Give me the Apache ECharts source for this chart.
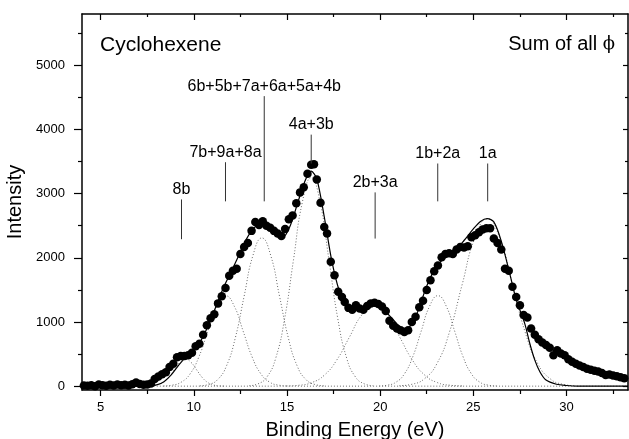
<!DOCTYPE html>
<html>
<head>
<meta charset="utf-8">
<script src="https://cdn.jsdelivr.net/npm/echarts@6/dist/echarts.min.js"></script>
<style>
    html, body { margin: 0; padding: 0; background: #fff; }
    #chart { width: 629px; height: 439px; }
</style>
</head>
<body>
<div id="chart"></div>
<script>
// measured spectrum (binding energy in eV, intensity)
const energy = [
    4.1, 4.3, 4.5, 4.7, 4.9, 5.1, 5.3, 5.5, 5.7, 5.9, 6.1, 6.3, 6.5, 6.7, 6.9, 7.1, 7.3, 7.5, 7.7, 7.9,
    8.1, 8.3, 8.5, 8.7, 8.9, 9.1, 9.3, 9.5, 9.7, 9.9, 10.1, 10.3, 10.5, 10.7, 10.9, 11.1, 11.3, 11.5, 11.7, 11.9,
    12.1, 12.3, 12.5, 12.7, 12.9, 13.1, 13.3, 13.5, 13.7, 13.9, 14.1, 14.3, 14.5, 14.7, 14.9, 15.1, 15.3, 15.5, 15.7, 15.9,
    16.1, 16.3, 16.45, 16.6, 16.8, 17.0, 17.15, 17.35, 17.55, 17.75, 17.95, 18.1,
    18.3, 18.5, 18.7, 18.9, 19.1, 19.3, 19.5, 19.7, 19.9, 20.1, 20.3, 20.5, 20.7, 20.9, 21.1, 21.3, 21.5, 21.7, 21.9,
    22.1, 22.3, 22.5, 22.7, 22.9, 23.1, 23.3, 23.5, 23.7, 23.9, 24.1, 24.3, 24.5, 24.7, 24.9, 25.1, 25.3, 25.5, 25.7, 25.9,
    26.1, 26.3, 26.5, 26.7, 26.9, 27.1, 27.3, 27.5, 27.7, 27.9, 28.1, 28.3, 28.5, 28.7, 28.9, 29.1, 29.3, 29.5, 29.7, 29.9,
    30.1, 30.3, 30.5, 30.7, 30.9, 31.1, 31.3, 31.5, 31.7, 31.9, 32.1, 32.3, 32.5, 32.7, 32.9, 33.1
];
const counts = [
    10, 5, 15, 0, 25, 15, 5, 20, 10, 25, 15, 20, 10, 30, 55, 35, 20, 25, 40, 110,
    150, 185, 215, 300, 350, 450, 470, 470, 480, 520, 620, 660, 800, 950, 1060, 1120, 1290, 1400, 1530, 1720,
    1800, 1830, 2060, 2170, 2230, 2420, 2560, 2510, 2570, 2500, 2470, 2420, 2380, 2340, 2450, 2600, 2660, 2850, 3020, 3100,
    3310, 3450, 3460, 3220, 2860, 2480, 2380, 1940, 1730, 1470, 1390, 1310,
    1220, 1190, 1260, 1210, 1190, 1250, 1290, 1300, 1280, 1240, 1170, 1020, 940, 900, 870, 845, 870, 1000, 1080,
    1230, 1330, 1500, 1650, 1790, 1880, 2010, 2060, 2070, 2060, 2130, 2170, 2160, 2180, 2320, 2350, 2400, 2440, 2460, 2460,
    2300, 2230, 2130, 1830, 1800, 1550, 1390, 1260, 1110, 1070, 900, 800, 730, 680, 640, 600, 480, 560, 510, 480,
    420, 380, 350, 320, 300, 270, 255, 240, 230, 205, 175, 180, 165, 155, 140, 125
];

// fitted envelope (solid line)
const fitE = [4, 7, 7.6, 8.0, 8.4, 8.8, 9.2, 9.6, 10.0, 10.4, 10.8, 11.2, 11.6, 12.0, 12.4, 12.8, 13.2, 13.6, 14.0, 14.4,
    14.8, 15.2, 15.6, 16.0, 16.3, 16.6, 17.0, 17.4, 17.8, 18.2, 18.6, 19.0, 19.5, 20.0, 20.5, 21.0, 21.3, 21.6, 22.0, 22.5,
    23.0, 23.5, 24.0, 24.5, 25.0, 25.4, 25.75, 26.1, 26.5, 27.0, 27.3, 27.76, 28.03, 28.3, 28.57, 28.9, 29.46, 30.0, 30.6, 33.3];
const fitI = [0, 0, 5, 20, 70, 180, 330, 460, 560, 720, 960, 1250, 1540, 1780, 2030, 2280, 2460, 2530, 2470, 2370,
    2330, 2520, 2880, 3220, 3350, 3230, 2640, 1960, 1490, 1240, 1180, 1210, 1270, 1240, 1100, 940, 880, 930, 1150, 1560,
    1860, 2010, 2110, 2270, 2450, 2570, 2610, 2560, 2260, 1700, 1350, 975, 665, 405, 225, 95, 30, 10, 0, 0];

// dotted component peaks [energy, intensity]
const peak8b = [[7.45, 1], [7.75, 5], [8.05, 18], [8.35, 57], [8.65, 136], [8.95, 255], [9.25, 371], [9.55, 420],
    [9.85, 371], [10.15, 255], [10.45, 136], [10.75, 57], [11.05, 18], [11.35, 5], [11.65, 1]];
const peak7b = [[8.375, 3], [8.85, 16], [9.325, 62], [9.8, 191], [10.275, 458], [10.75, 855], [11.225, 1244], [11.7, 1410],
    [12.175, 1244], [12.65, 855], [13.125, 458], [13.6, 191], [14.075, 62], [14.55, 16], [15.025, 3]];
const peak6b = [[10.325, 5], [10.8, 26], [11.275, 101], [11.75, 313], [12.225, 750], [12.7, 1401], [13.175, 2039], [13.65, 2310],
    [14.125, 2039], [14.6, 1401], [15.075, 750], [15.55, 313], [16.025, 101], [16.5, 26], [16.975, 5]];
const peak4a = [[12.975, 7], [13.45, 36], [13.925, 143], [14.4, 440], [14.875, 1055], [15.35, 1971], [15.825, 2868], [16.3, 3250],
    [16.775, 2868], [17.25, 1971], [17.725, 1055], [18.2, 440], [18.675, 143], [19.15, 36], [19.625, 7]];
const peak2b = [[14.975, 3], [15.65, 14], [16.325, 55], [17.0, 170], [17.675, 409], [18.35, 764], [19.025, 1112], [19.7, 1260],
    [20.375, 1112], [21.05, 764], [21.725, 409], [22.4, 170], [23.075, 55], [23.75, 14], [24.425, 3]];
const peak1b = [[19.95, 3], [20.4, 16], [20.85, 62], [21.3, 191], [21.75, 458], [22.2, 855], [22.65, 1244], [23.1, 1410],
    [23.55, 1244], [24.0, 855], [24.45, 458], [24.9, 191], [25.35, 62], [25.8, 16], [26.25, 3]];
const peak1a = [[21.025, 6], [21.7, 29], [22.375, 115], [23.05, 353], [23.725, 847], [24.4, 1583], [25.075, 2303], [25.75, 2610],
    [26.425, 2303], [27.1, 1583], [27.775, 847], [28.45, 353], [29.125, 115], [29.8, 29], [30.475, 6]];
const baseline = [[4, 0], [33.3, 0]];

// assignment markers
const annText = ['8b', '7b+9a+8a', '6b+5b+7a+6a+5a+4b', '4a+3b', '2b+3a', '1b+2a', '1a'];
const annX = [9.34, 11.7, 13.78, 16.3, 19.73, 23.09, 25.77];
const annTop = [2910, 3490, 4520, 3920, 3020, 3470, 3470];
const annBottom = [2290, 2880, 2880, 3470, 2300, 2880, 2880];

const xMajor = [5, 10, 15, 20, 25, 30];
const xMinor = [7.5, 12.5, 17.5, 22.5, 27.5, 32.5];
const yMajor = [0, 1000, 2000, 3000, 4000, 5000];
const yMinor = [500, 1500, 2500, 3500, 4500, 5500];

const FONT = 'Liberation Sans, Arial, sans-serif';
const X_MIN = 4, X_MAX = 33.3, Y_MIN = -60, Y_MAX = 5800;

const chart = echarts.init(document.getElementById('chart'), null, { renderer: 'canvas' });

function tickAxis(position, values, len, inside, showLine) {
    const isX = position === 'bottom' || position === 'top';
    return {
        type: 'value',
        position: position,
        min: isX ? X_MIN : Y_MIN,
        max: isX ? X_MAX : Y_MAX,
        axisLine: { show: showLine, onZero: false, lineStyle: { color: '#000', width: 1.5 } },
        axisTick: { show: true, inside: inside, length: len, customValues: values, lineStyle: { color: '#000', width: 1.2 } },
        axisLabel: { show: false },
        splitLine: { show: false }
    };
}

const xBottom = tickAxis('bottom', xMajor, 6, false, true);
xBottom.axisLabel = { show: true, customValues: xMajor, fontSize: 13, color: '#000', fontFamily: FONT, margin: 11 };
xBottom.name = 'Binding Energy (eV)';
xBottom.nameLocation = 'middle';
xBottom.nameGap = 30;
xBottom.nameTextStyle = { fontSize: 20, color: '#000', fontFamily: FONT };

const yLeft = tickAxis('left', yMajor, 8, false, true);
yLeft.axisLabel = {
    show: true, customValues: yMajor, fontSize: 13, color: '#000', fontFamily: FONT, margin: 17,
    formatter: v => String(v)
};
yLeft.name = 'Intensity';
yLeft.nameLocation = 'middle';
yLeft.nameGap = 46;
yLeft.nameTextStyle = { fontSize: 20, color: '#000', fontFamily: FONT };

function dotted(data) {
    return {
        type: 'line',
        data: data,
        smooth: 0.5,
        showSymbol: false,
        silent: true,
        z: 1,
        lineStyle: { color: '#6a6a6a', width: 1, type: [1, 2] }
    };
}

const series = [
    dotted(baseline),
    dotted(peak8b), dotted(peak7b), dotted(peak6b), dotted(peak4a),
    dotted(peak2b), dotted(peak1b), dotted(peak1a),
    {
        type: 'line',
        data: fitE.map((x, i) => [x, fitI[i]]),
        smooth: 0.3,
        showSymbol: false,
        z: 2,
        lineStyle: { color: '#000', width: 1.2 }
    },
    {
        type: 'scatter',
        data: energy.map((x, i) => [x, counts[i]]),
        symbol: 'circle',
        symbolSize: 8.5,
        z: 3,
        itemStyle: { color: '#000', opacity: 1 }
    },
    {
        type: 'scatter',
        data: annX.map((x, i) => [x, annTop[i]]),
        symbolSize: 0,
        z: 4,
        itemStyle: { opacity: 1 },
        label: {
            show: true,
            position: 'top',
            distance: 2,
            formatter: p => annText[p.dataIndex],
            fontSize: 16,
            color: '#000',
            opacity: 1,
            fontFamily: FONT
        }
    }
];

annX.forEach((x, i) => {
    series.push({
        type: 'line',
        data: [[x, annBottom[i]], [x, annTop[i]]],
        showSymbol: false,
        z: 4,
        lineStyle: { color: '#333', width: 1 }
    });
});

chart.setOption({
    animation: false,
    backgroundColor: '#fff',
    grid: { left: 82, right: 1, top: 14, bottom: 49, containLabel: false, outerBoundsMode: 'none' },
    xAxis: [
        xBottom,
        tickAxis('bottom', xMinor, 4, false, false),
        tickAxis('top', xMajor, 6, true, true),
        tickAxis('top', xMinor, 3, true, false)
    ],
    yAxis: [
        yLeft,
        tickAxis('left', yMinor, 4, false, false),
        tickAxis('right', yMajor, 5, true, true),
        tickAxis('right', yMinor, 3, true, false)
    ],
    graphic: [
        {
            type: 'text',
            left: 100,
            top: 35,
            style: { text: 'Cyclohexene', font: '21px ' + FONT, fill: '#000' }
        },
        {
            type: 'text',
            right: 14,
            top: 34,
            style: {
                text: '{a|Sum of all }{p|ϕ}',
                rich: {
                    a: { fontSize: 20, fontFamily: FONT, fill: '#000', color: '#000' },
                    p: { fontSize: 18, fontFamily: 'DejaVu Serif, serif', fill: '#000', color: '#000' }
                }
            }
        }
    ],
    series: series
});
</script>
</body>
</html>
